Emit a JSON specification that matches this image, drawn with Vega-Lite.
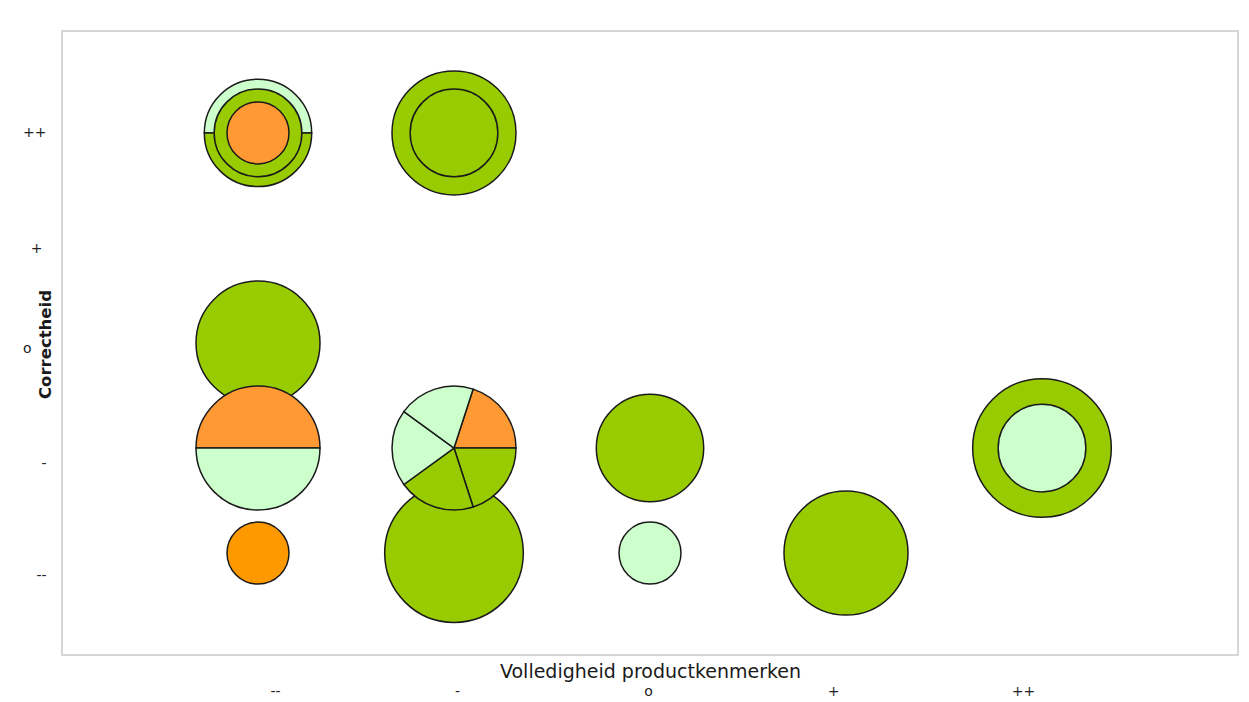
{
  "$schema": "https://vega.github.io/schema/vega-lite/v6.json",
  "width": 1176,
  "height": 624,
  "autosize": {"type": "none"},
  "padding": {"left": 62, "top": 31, "right": 11, "bottom": 47},
  "background": "white",
  "config": {
    "view": {"stroke": "#d6d6d6", "strokeWidth": 2},
    "font": "DejaVu Sans"
  },
  "datasets": {
    "buiten": [
      {"vol": "-", "cor": "++", "n": 4, "kleur": "groen"},
      {"vol": "--", "cor": "o", "n": 4, "kleur": "groen"},
      {"vol": "--", "cor": "--", "n": 1, "kleur": "donkeroranje"},
      {"vol": "-", "cor": "--", "n": 5, "kleur": "groen"},
      {"vol": "o", "cor": "-", "n": 3, "kleur": "groen"},
      {"vol": "o", "cor": "--", "n": 1, "kleur": "lichtgroen"},
      {"vol": "+", "cor": "--", "n": 4, "kleur": "groen"},
      {"vol": "++", "cor": "-", "n": 5, "kleur": "groen"}
    ],
    "binnen": [
      {"vol": "--", "cor": "++", "n": 2, "kleur": "groen"},
      {"vol": "--", "cor": "++", "n": 1, "kleur": "oranje"},
      {"vol": "-", "cor": "++", "n": 2, "kleur": "groen"},
      {"vol": "++", "cor": "-", "n": 2, "kleur": "lichtgroen"}
    ],
    "taartA": [
      {"vol": "--", "cor": "++", "n": 3, "aandeel": 1, "volgorde": 1, "kleur": "lichtgroen"},
      {"vol": "--", "cor": "++", "n": 3, "aandeel": 1, "volgorde": 2, "kleur": "groen"}
    ],
    "taartB": [
      {"vol": "--", "cor": "-", "n": 4, "aandeel": 1, "volgorde": 1, "kleur": "oranje"},
      {"vol": "--", "cor": "-", "n": 4, "aandeel": 1, "volgorde": 2, "kleur": "lichtgroen"}
    ],
    "taartC": [
      {"vol": "-", "cor": "-", "n": 4, "aandeel": 1, "volgorde": 1, "kleur": "oranje"},
      {"vol": "-", "cor": "-", "n": 4, "aandeel": 1, "volgorde": 2, "kleur": "groen"},
      {"vol": "-", "cor": "-", "n": 4, "aandeel": 1, "volgorde": 3, "kleur": "groen"},
      {"vol": "-", "cor": "-", "n": 4, "aandeel": 1, "volgorde": 4, "kleur": "lichtgroen"},
      {"vol": "-", "cor": "-", "n": 4, "aandeel": 1, "volgorde": 5, "kleur": "lichtgroen"}
    ]
  },
  "encoding": {
    "x": {
      "field": "vol",
      "type": "ordinal",
      "scale": {"type": "point", "domain": ["--", "-", "o", "+", "++"], "padding": 1},
      "axis": {
        "title": "Volledigheid productkenmerken",
        "domain": false,
        "ticks": false,
        "grid": false,
        "labelAngle": 0,
        "labelFont": "DejaVu Sans",
        "labelFontSize": 14,
        "labelColor": "#222222",
        "labelPadding": 29,
        "labelOffset": {
          "condition": [
            {"test": "datum.value === '--'", "value": 17},
            {"test": "datum.value === '-'", "value": 3},
            {"test": "datum.value === 'o'", "value": -2},
            {"test": "datum.value === '+'", "value": -13},
            {"test": "datum.value === '++'", "value": -19}
          ],
          "value": 0
        },
        "titleFont": "DejaVu Sans",
        "titleFontSize": 19,
        "titleFontWeight": "normal",
        "titleColor": "#1a1a1a",
        "titleY": 16,
        "titleBaseline": "middle"
      }
    },
    "y": {
      "field": "cor",
      "type": "ordinal",
      "scale": {"type": "point", "domain": ["++", "+", "o", "-", "--"], "padding": 0.97},
      "axis": {
        "title": "Correctheid",
        "domain": false,
        "ticks": false,
        "grid": false,
        "labelFont": "DejaVu Sans",
        "labelFontSize": 14,
        "labelColor": "#222222",
        "labelPadding": {
          "condition": [
            {"test": "datum.value === '+'", "value": 20},
            {"test": "datum.value === 'o'", "value": 31}
          ],
          "value": 16
        },
        "labelOffset": {
          "condition": [
            {"test": "datum.value === '+'", "value": 11},
            {"test": "datum.value === 'o'", "value": 5},
            {"test": "datum.value === '-'", "value": 15},
            {"test": "datum.value === '--'", "value": 22}
          ],
          "value": 0
        },
        "titleFont": "DejaVu Sans",
        "titleFontSize": 16.5,
        "titleFontWeight": 600,
        "titleColor": "#1a1a1a",
        "titleX": -17,
        "titleY": 313,
        "titleBaseline": "middle"
      }
    }
  },
  "layer": [
    {
      "data": {"name": "buiten"},
      "mark": {"type": "point", "shape": "circle", "filled": true, "opacity": 1, "stroke": "#1a1a1a", "strokeWidth": 1.5},
      "encoding": {
        "size": {"field": "n", "type": "quantitative", "scale": {"type": "linear", "domain": [0, 5], "range": [0, 19220]}, "legend": null},
        "fill": {"field": "kleur", "type": "nominal", "scale": {"domain": ["groen", "lichtgroen", "oranje", "donkeroranje"], "range": ["#99CC00", "#CCFFCC", "#FF9933", "#FF9900"]}, "legend": null}
      }
    },
    {
      "data": {"name": "taartA"},
      "mark": {"type": "arc", "stroke": "#1a1a1a", "strokeWidth": 1.5},
      "encoding": {
        "theta": {"field": "aandeel", "type": "quantitative", "stack": true, "scale": {"range": [-1.5708, 4.7124]}},
        "order": {"field": "volgorde", "type": "quantitative"},
        "radius": {"field": "n", "type": "quantitative", "scale": {"type": "sqrt", "domain": [0, 5], "range": [0, 69.3]}},
        "fill": {"field": "kleur", "type": "nominal", "legend": null}
      }
    },
    {
      "data": {"name": "taartB"},
      "mark": {"type": "arc", "stroke": "#1a1a1a", "strokeWidth": 1.5},
      "encoding": {
        "theta": {"field": "aandeel", "type": "quantitative", "stack": true, "scale": {"range": [-1.5708, 4.7124]}},
        "order": {"field": "volgorde", "type": "quantitative"},
        "radius": {"field": "n", "type": "quantitative", "scale": {"type": "sqrt", "domain": [0, 5], "range": [0, 69.3]}},
        "fill": {"field": "kleur", "type": "nominal", "legend": null}
      }
    },
    {
      "data": {"name": "taartC"},
      "mark": {"type": "arc", "stroke": "#1a1a1a", "strokeWidth": 1.5},
      "encoding": {
        "theta": {"field": "aandeel", "type": "quantitative", "stack": true, "scale": {"range": [0.31416, 6.59734]}},
        "order": {"field": "volgorde", "type": "quantitative"},
        "radius": {"field": "n", "type": "quantitative", "scale": {"type": "sqrt", "domain": [0, 5], "range": [0, 69.3]}},
        "fill": {"field": "kleur", "type": "nominal", "legend": null}
      }
    },
    {
      "data": {"name": "binnen"},
      "mark": {"type": "point", "shape": "circle", "filled": true, "opacity": 1, "stroke": "#1a1a1a", "strokeWidth": 1.5},
      "encoding": {
        "size": {"field": "n", "type": "quantitative", "legend": null},
        "fill": {"field": "kleur", "type": "nominal", "legend": null}
      }
    }
  ],
  "resolve": {"scale": {"theta": "independent"}}
}
